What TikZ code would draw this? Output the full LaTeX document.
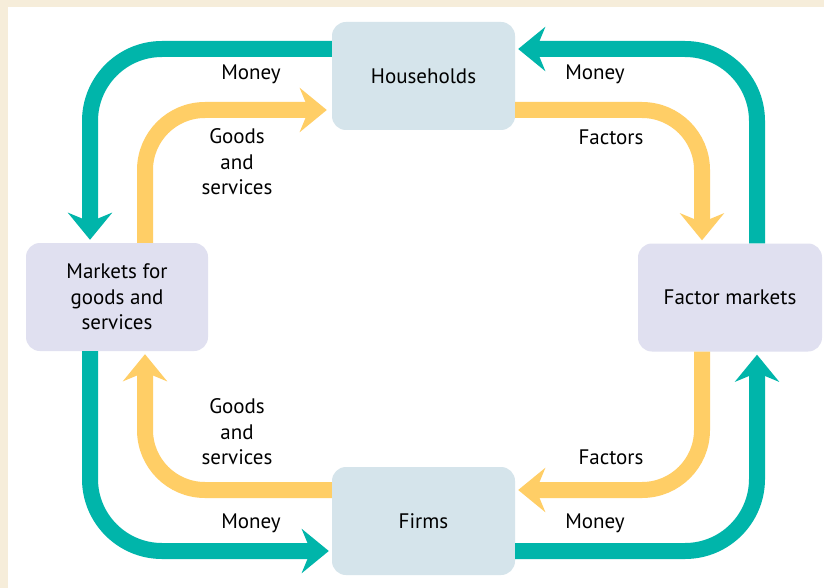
\documentclass[tikz,border=0pt]{standalone}
\usepackage{fontspec}
\setmainfont{PT Sans}
\usepackage{tikz}
\usetikzlibrary{arrows.meta}

\definecolor{bgcream}{RGB}{246,237,218}
\definecolor{moneyteal}{RGB}{0,181,170}
\definecolor{goodsyellow}{RGB}{255,206,102}
\definecolor{boxblue}{RGB}{213,228,235}
\definecolor{boxlav}{RGB}{224,224,240}

\begin{document}
\begin{tikzpicture}[x=1pt,y=-1pt,
		every node/.style={font=\fontsize{21}{25.5}\selectfont, align=center},
		sector/.style={rounded corners=14pt, minimum height=108pt, inner sep=0pt},
		money/.style={draw=moneyteal, line width=16pt, rounded corners=72pt, -{Stealth[length=27pt,width=44pt,inset=9pt]}},
		goods/.style={draw=goodsyellow, line width=16pt, rounded corners=60pt, -{Stealth[length=27pt,width=44pt,inset=9pt]}}]
				\useasboundingbox (0,0) rectangle (824,588);
				\fill[bgcream] (0,0) rectangle (824,588);
				\fill[white] (8,7) rectangle (824,588);
				\node[sector, fill=boxblue, minimum width=183pt] (hh) at (423.5,76) {Households};
				\node[sector, fill=boxblue, minimum width=183pt] (fm) at (423.5,521) {Firms};
				\node[sector, fill=boxlav, minimum width=182pt] (mk) at (117,297) {Markets for\\goods and\\services};
				\node[sector, fill=boxlav, minimum width=184pt] (fa) at (730,297.5) {Factor markets};
				\draw[money] ([yshift=27pt]hh.west) -| ([xshift=-27pt,yshift=3pt]mk.north);
				\draw[money] ([xshift=27pt]fa.north) |- ([xshift=3pt,yshift=27pt]hh.east);
				\draw[money] ([xshift=-27pt]mk.south) |- ([xshift=-3pt,yshift=-30pt]fm.west);
				\draw[money] ([yshift=-30pt]fm.east) -| ([xshift=27pt,yshift=-3pt]fa.south);
				\draw[goods] ([xshift=28pt]mk.north) |- ([xshift=-5pt,yshift=-34pt]hh.west);
				\draw[goods] ([yshift=-34pt]hh.east) -| ([xshift=-28pt,yshift=3pt]fa.north);
				\draw[goods] ([xshift=-28pt]fa.south) |- ([xshift=3pt,yshift=31pt]fm.east);
				\draw[goods] ([yshift=31pt]fm.west) -| ([xshift=28pt,yshift=-3pt]mk.south);
				\node (money tl) at (251,74) {Money};
				\node (money tr) at (595,74) {Money};
				\node (money bl) at (251,523) {Money};
				\node (money br) at (595,523) {Money};
				\node (goods tl) at (237,162) {Goods\\and\\services};
				\node (goods bl) at (237,432) {Goods\\and\\services};
				\node (factors tr) at (611,137) {Factors};
				\node (factors br) at (611,457) {Factors};
		\end{tikzpicture}
\end{document}
